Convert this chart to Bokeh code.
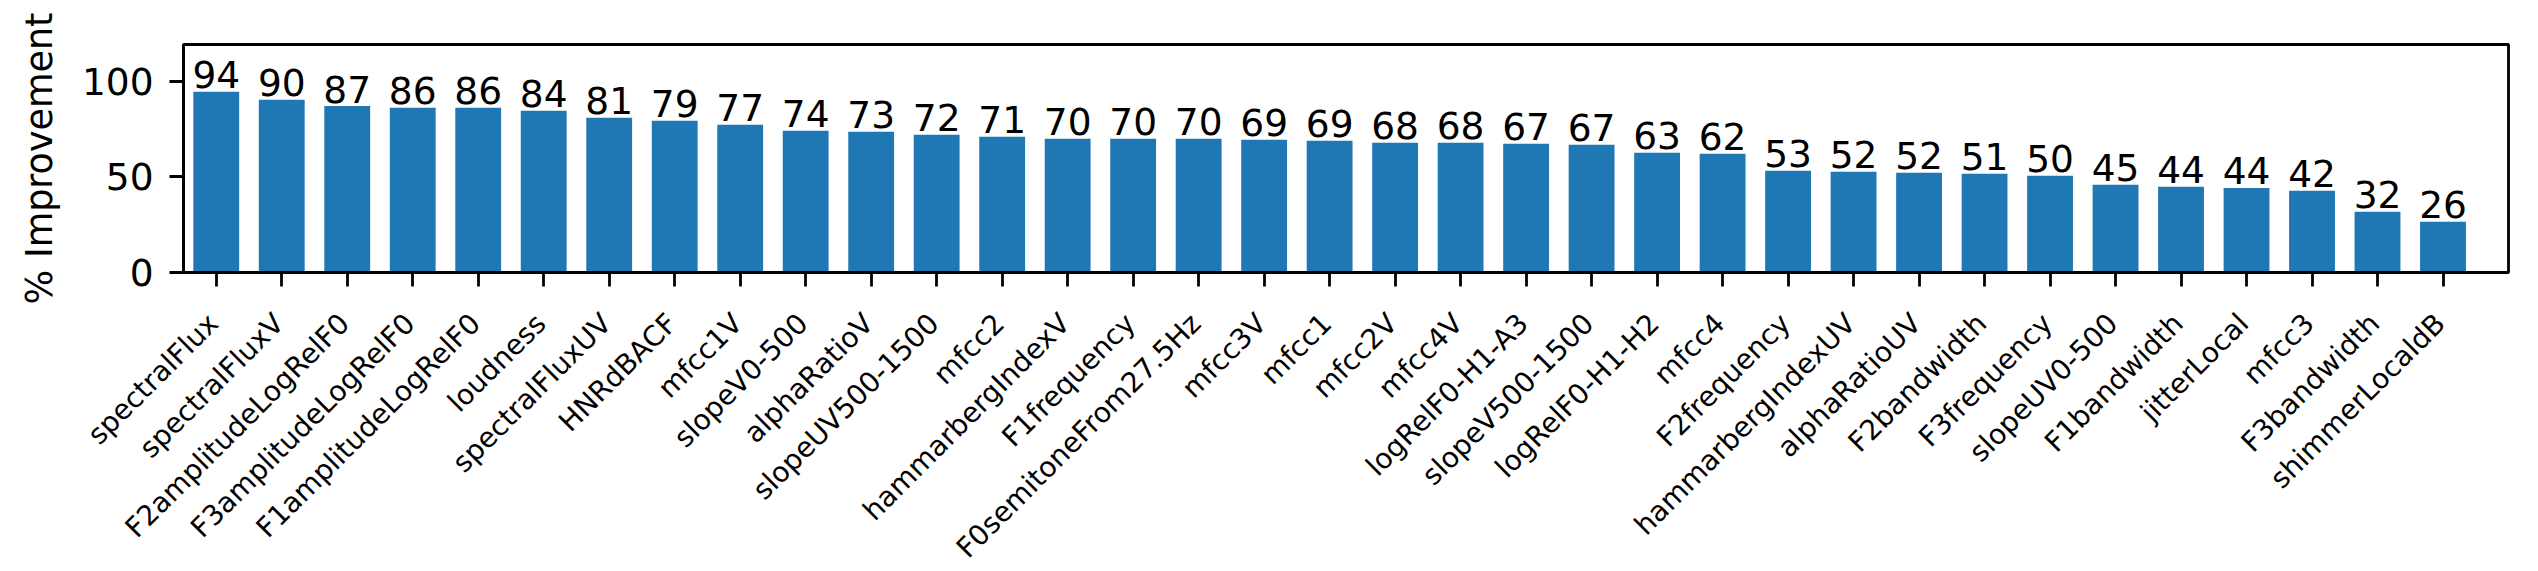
import math
from bokeh.plotting import figure
from bokeh.layouts import column
from bokeh.models import ColumnDataSource, FixedTicker, Range1d
from bokeh.core.properties import value
from bokeh.embed import file_html
from bokeh.resources import INLINE

features = ["spectralFlux", "spectralFluxV", "F2amplitudeLogRelF0", "F3amplitudeLogRelF0",
            "F1amplitudeLogRelF0", "loudness", "spectralFluxUV", "HNRdBACF", "mfcc1V",
            "slopeV0-500", "alphaRatioV", "slopeUV500-1500", "mfcc2", "hammarbergIndexV",
            "F1frequency", "F0semitoneFrom27.5Hz", "mfcc3V", "mfcc1", "mfcc2V", "mfcc4V",
            "logRelF0-H1-A3", "slopeV500-1500", "logRelF0-H1-H2", "mfcc4", "F2frequency",
            "hammarbergIndexUV", "alphaRatioUV", "F2bandwidth", "F3frequency", "slopeUV0-500",
            "F1bandwidth", "jitterLocal", "mfcc3", "F3bandwidth", "shimmerLocaldB"]
improvement = [94.5, 90.3, 87.0, 86.1, 86.1, 84.6, 80.9, 79.3, 77.2, 74.1, 73.6, 72.0,
               71.0, 69.9, 69.9, 69.9, 69.4, 68.9, 67.8, 67.8, 67.3, 66.8, 62.6, 62.1,
               53.2, 52.7, 52.1, 51.6, 50.6, 45.9, 44.8, 44.2, 42.7, 31.8, 26.5]
value_labels = ["94", "90", "87", "86", "86", "84", "81", "79", "77", "74", "73", "72",
                "71", "70", "70", "70", "69", "69", "68", "68", "67", "67", "63", "62",
                "53", "52", "52", "51", "50", "45", "44", "44", "42", "32", "26"]
y_ticks = [0, 50, 100]

xs = list(range(len(features)))
src = ColumnDataSource(dict(x=xs, top=improvement, lab=value_labels))

FONT = "DejaVu Sans"
BIG = "37.5px"
W = 2538
TOP_H, BOT_H = 305, 266
LEFT, RIGHT = 183, 30
X0, X1 = -0.5, 35.0

# ---------------- bar chart ----------------
p = figure(width=W, height=TOP_H, output_backend="svg", toolbar_location=None,
           x_range=Range1d(X0, X1), y_range=Range1d(0, 119.2),
           min_border_left=LEFT, min_border_right=RIGHT, min_border_top=44,
           min_border_bottom=TOP_H - 272)
p.frame_align = False
p.background_fill_color = "white"
p.border_fill_color = "white"
p.outline_line_color = "black"
p.outline_line_width = 2.8
p.xgrid.visible = False
p.ygrid.visible = False

p.vbar(x="x", top="top", width=0.7, bottom=0, source=src, fill_color="#1f77b4", line_color=None)
p.text(x="x", y="top", text="lab", source=src, text_align="center", text_baseline="middle",
       y_offset=-17, text_font=value(FONT), text_font_size=BIG, text_color="black")

for ax in (p.xaxis[0], p.yaxis[0]):
    ax.axis_line_color = "black"
    ax.axis_line_width = 2.8
    ax.major_tick_line_color = "black"
    ax.major_tick_line_width = 2.8
    ax.major_tick_out = 14
    ax.major_tick_in = 0
    ax.minor_tick_line_color = None
    ax.major_label_text_color = "black"
    ax.major_label_text_font = FONT

p.yaxis.ticker = FixedTicker(ticks=y_ticks)
p.yaxis.major_label_text_font_size = BIG
p.yaxis.major_label_standoff = 16
p.yaxis.axis_label = "% Improvement"
p.yaxis.axis_label_text_font = FONT
p.yaxis.axis_label_text_font_size = "36.5px"
p.yaxis.axis_label_text_font_style = "normal"
p.yaxis.axis_label_text_color = "black"
p.yaxis.axis_label_standoff = 18

# x axis: tick marks only; the rotated names are drawn in the strip below
p.xaxis.ticker = FixedTicker(ticks=xs)
p.xaxis.major_label_text_color = None
p.xaxis.major_label_text_font_size = "0px"
p.xaxis.major_label_standoff = 0

# ---------------- rotated category names ----------------
# same horizontal scale as the bar chart, extended over the full strip width
ppu = (W - LEFT - RIGHT) / (X1 - X0)
names_src = ColumnDataSource(dict(x=xs, name=features, y=[-13.1] * len(xs)))
q = figure(width=W, height=BOT_H, output_backend="svg", toolbar_location=None,
           x_range=Range1d(X0 - LEFT / ppu, X1 + RIGHT / ppu), y_range=Range1d(-BOT_H, 0),
           x_axis_type=None, y_axis_type=None,
           min_border_left=0, min_border_right=0, min_border_top=0, min_border_bottom=0)
q.frame_align = False
q.outline_line_color = None
q.background_fill_color = "white"
q.border_fill_color = "white"
q.xgrid.visible = False
q.ygrid.visible = False
q.text(x="x", y="y", text="name", source=names_src, angle=math.pi / 4,
       text_align="right", text_baseline="middle", x_offset=-2.9,
       text_font=value(FONT), text_font_size="28px", text_color="black")

layout = column(p, q, spacing=0)
open("out.html", "w").write(file_html(layout, INLINE))
